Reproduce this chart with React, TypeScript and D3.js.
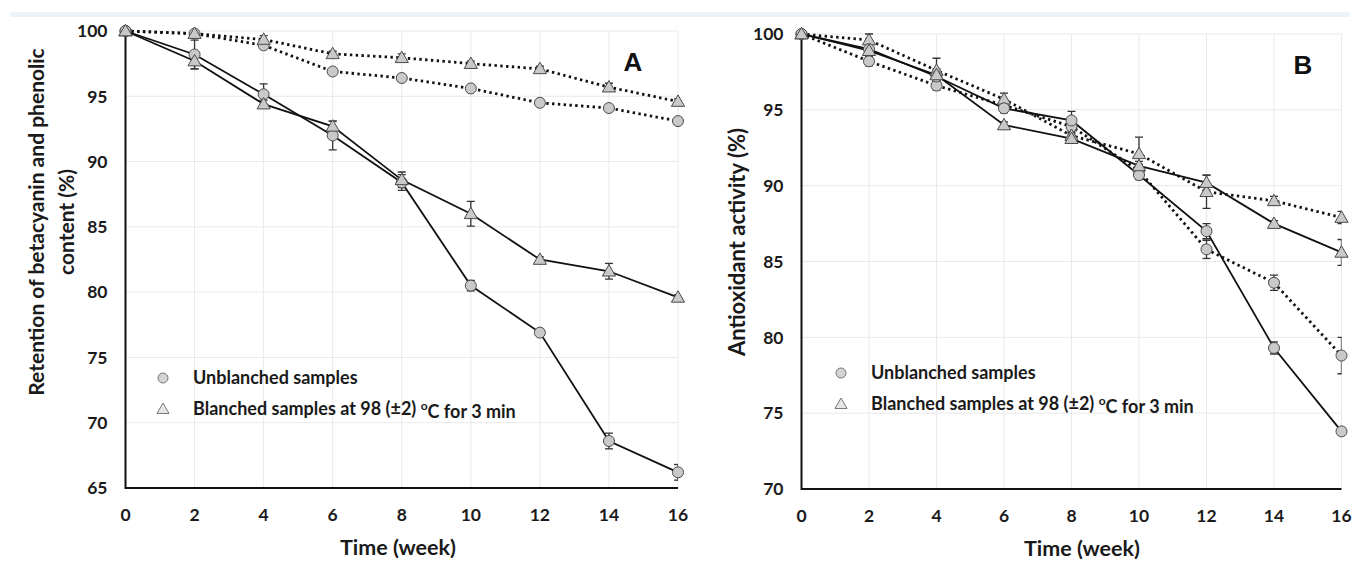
import React from 'react'
import * as d3 from 'd3'

// time points (weeks)
const weeks = [0, 2, 4, 6, 8, 10, 12, 14, 16]

// panel A - retention of betacyanin / phenolic (%)
const aUnblanchedSolid = [100, 98.2, 95.15, 92.0, 88.4, 80.5, 76.9, 68.6, 66.2]
const aUnblanchedSolidErr = [0, 1.1, 0.8, 1.1, 0.6, 0.4, 0.2, 0.6, 0.6]
const aBlanchedSolid = [100, 97.7, 94.4, 92.7, 88.6, 86.0, 82.5, 81.6, 79.6]
const aBlanchedSolidErr = [0, 0.6, 0.3, 0.4, 0.6, 0.95, 0.2, 0.6, 0.2]
const aUnblanchedDot = [100, 99.8, 98.9, 96.9, 96.4, 95.6, 94.5, 94.1, 93.1]
const aUnblanchedDotErr = [0, 0.2, 0.2, 0.2, 0.2, 0.2, 0.2, 0.2, 0.2]
const aBlanchedDot = [100, 99.8, 99.35, 98.25, 97.95, 97.5, 97.1, 95.7, 94.6]
const aBlanchedDotErr = [0, 0.2, 0.3, 0.2, 0.3, 0.2, 0.2, 0.3, 0.2]

// panel B - antioxidant activity (%)
const bUnblanchedSolid = [100, 99.0, 97.2, 95.1, 94.3, 90.7, 87.0, 79.3, 73.8]
const bUnblanchedSolidErr = [0, 0.3, 0.3, 0.3, 0.6, 0.3, 0.5, 0.4, 0.2]
const bBlanchedSolid = [100, 98.9, 97.3, 94.0, 93.1, 91.3, 90.2, 87.5, 85.6]
const bBlanchedSolidErr = [0, 0.3, 0.4, 0.2, 0.3, 0.3, 0.5, 0.2, 0.85]
const bUnblanchedDot = [100, 98.2, 96.6, 95.3, 93.9, 91.0, 85.8, 83.6, 78.8]
const bUnblanchedDotErr = [0, 0.3, 0.3, 0.3, 0.4, 0.4, 0.6, 0.5, 1.2]
const bBlanchedDot = [100, 99.6, 97.6, 95.7, 93.3, 92.1, 89.6, 89.0, 87.9]
const bBlanchedDotErr = [0, 0.4, 0.8, 0.4, 0.3, 1.1, 1.1, 0.3, 0.4]

const xTicks = [0, 2, 4, 6, 8, 10, 12, 14, 16]
const aYTicks = [65, 70, 75, 80, 85, 90, 95, 100]
const bYTicks = [70, 75, 80, 85, 90, 95, 100]

const legendLabels = ['Unblanched samples', 'Blanched samples at 98 (±2) ', 'C for 3 min']

const FONT = 'Lato, "Open Sans", sans-serif'
const MARK_FILL = '#c9c9c9'
const MARK_STROKE = '#4a4a4a'

type Series = {values: number[]; err: number[]; marker: 'circle' | 'triangle'; dotted: boolean}

function Marker({x, y, kind, size = 6, fill = MARK_FILL, stroke = MARK_STROKE}: any) {
  if (kind === 'circle') {
    return <circle cx={x} cy={y} r={size - 0.5} fill={fill} stroke={stroke} strokeWidth={1} />
  }
  const path = d3.symbol(d3.symbolTriangle, size * size * 2.1)()
  return <path d={path || ''} transform={`translate(${x},${y + 1})`} fill={fill} stroke={stroke} strokeWidth={1} />
}

function Panel({id, series, yDomain, yTicks, left, right, top, bottom, yTitle, letter, letterX, legendX, legendY, titleX}: any) {
  const x = d3.scaleLinear().domain([0, 16]).range([left, right])
  const y = d3.scaleLinear().domain(yDomain).range([bottom, top])
  const line = d3
    .line<number>()
    .x((d, i) => x(weeks[i]))
    .y(d => y(d))

  const titleCenter = yTitle.center
  return (
    <g>
      <defs>
        <clipPath id={`clip-${id}`}>
          <rect x={left - 20} y={top - 20} width={right - left + 20} height={bottom - top + 40} />
        </clipPath>
      </defs>
      {/* grid */}
      {xTicks.map(t => (
        <line key={'gx' + t} x1={x(t)} x2={x(t)} y1={top} y2={bottom} stroke="#e9e9e9" strokeWidth={1} />
      ))}
      {yTicks.map((t: number) => (
        <line key={'gy' + t} x1={left} x2={right} y1={y(t)} y2={y(t)} stroke="#e9e9e9" strokeWidth={1} />
      ))}

      {/* axes */}
      <line x1={left} x2={left} y1={top} y2={bottom + 1} stroke="#111" strokeWidth={2} />
      <line x1={left} x2={right} y1={bottom} y2={bottom} stroke="#111" strokeWidth={2} />

      {yTicks.map((t: number) => (
        <text key={'yl' + t} x={left - 18} y={y(t)} dy="0.36em" textAnchor="end" fontSize={17.5} fontWeight={700} fill="#1a1a1a" fontFamily={FONT}>
          {t}
        </text>
      ))}
      {xTicks.map(t => (
        <text key={'xl' + t} x={x(t)} y={bottom + 27} dy="0.36em" textAnchor="middle" fontSize={17.5} fontWeight={700} fill="#1a1a1a" fontFamily={FONT}>
          {t}
        </text>
      ))}

      <text x={titleX} y={bottom + 59} dy="0.36em" textAnchor="middle" fontSize={21.5} fontWeight={700} fill="#1a1a1a" fontFamily={FONT}>
        Time (week)
      </text>

      {yTitle.lines.map((s: string, i: number) => (
        <text
          key={'yt' + i}
          transform={`translate(${yTitle.x + i * 30},${titleCenter}) rotate(-90)`}
          textAnchor="middle"
          dy="0.35em"
          fontSize={yTitle.size}
          fontWeight={700}
          fill="#1a1a1a"
          fontFamily={FONT}
        >
          {s}
        </text>
      ))}

      <text x={letterX} y={top + 31} textAnchor="middle" dy="0.35em" fontSize={26} fontWeight={700} fill="#111" fontFamily="'Liberation Sans', Arial, sans-serif">
        {letter}
      </text>

      {/* lines */}
      {series.map((s: Series, k: number) => (
        <path
          key={'ln' + k}
          d={line(s.values) || ''}
          fill="none"
          stroke="#111"
          strokeWidth={s.dotted ? 2.8 : 1.8}
          strokeDasharray={s.dotted ? '2.4 3.4' : undefined}
        />
      ))}

      {/* error bars */}
      <g clipPath={`url(#clip-${id})`}>
        {series.map((s: Series, k: number) =>
          s.values.map((v, i) => {
            const e = s.err[i]
            if (!e) return null
            const cx = x(weeks[i])
            return (
              <g key={`eb${k}-${i}`} stroke="#333" strokeWidth={1.3}>
                <line x1={cx} x2={cx} y1={y(v + e)} y2={y(v - e)} />
                <line x1={cx - 4} x2={cx + 4} y1={y(v + e)} y2={y(v + e)} />
                <line x1={cx - 4} x2={cx + 4} y1={y(v - e)} y2={y(v - e)} />
              </g>
            )
          })
        )}
      </g>

      {/* markers */}
      {series.map((s: Series, k: number) =>
        s.values.map((v, i) => <Marker key={`mk${k}-${i}`} x={x(weeks[i])} y={y(v)} kind={s.marker} />)
      )}

      {/* legend */}
      <Marker x={legendX} y={legendY} kind="circle" size={5.5} fill="#d4d4d4" stroke="#777" />
      <text x={legendX + 30} y={legendY} dy="0.36em" fontSize={18} fontWeight={700} fill="#1a1a1a" fontFamily={FONT}>
        {legendLabels[0]}
      </text>
      <Marker x={legendX} y={legendY + 31} kind="triangle" size={5.5} fill="#e6e6e6" stroke="#777" />
      <text x={legendX + 30} y={legendY + 31} dy="0.36em" fontSize={18} fontWeight={700} fill="#1a1a1a" fontFamily={FONT}>
        {legendLabels[1]}
        <tspan dy="-0.45em" fontSize={12}>o</tspan>
        <tspan dy="0.45em">{legendLabels[2]}</tspan>
      </text>
    </g>
  )
}

export default function App() {
  const seriesA: Series[] = [
    {values: aUnblanchedDot, err: aUnblanchedDotErr, marker: 'circle', dotted: true},
    {values: aBlanchedDot, err: aBlanchedDotErr, marker: 'triangle', dotted: true},
    {values: aUnblanchedSolid, err: aUnblanchedSolidErr, marker: 'circle', dotted: false},
    {values: aBlanchedSolid, err: aBlanchedSolidErr, marker: 'triangle', dotted: false}
  ]
  const seriesB: Series[] = [
    {values: bUnblanchedDot, err: bUnblanchedDotErr, marker: 'circle', dotted: true},
    {values: bBlanchedDot, err: bBlanchedDotErr, marker: 'triangle', dotted: true},
    {values: bUnblanchedSolid, err: bUnblanchedSolidErr, marker: 'circle', dotted: false},
    {values: bBlanchedSolid, err: bBlanchedSolidErr, marker: 'triangle', dotted: false}
  ]

  return (
    <svg width={1359} height={562} style={{position: 'absolute', left: 0, top: 0, background: '#fff'}}>
      <rect x={10} y={12} width={1340} height={5} fill="#edf2f7" />
      <Panel
        id="a"
        series={seriesA}
        yDomain={[65, 100]}
        yTicks={aYTicks}
        left={125.5}
        right={678}
        top={31}
        bottom={488}
        yTitle={{x: 37, center: 222, size: 21, lines: ['Retention of betacyanin and phenolic', 'content (%)']}}
        letter="A"
        letterX={633}
        legendX={163}
        legendY={378}
        titleX={398}
      />
      <Panel
        id="b"
        series={seriesB}
        yDomain={[70, 100]}
        yTicks={bYTicks}
        left={801.5}
        right={1341.5}
        top={34}
        bottom={489}
        yTitle={{x: 737, center: 242, size: 22, lines: ['Antioxidant activity (%)']}}
        letter="B"
        letterX={1303}
        legendX={841}
        legendY={373}
        titleX={1082}
      />
    </svg>
  )
}
